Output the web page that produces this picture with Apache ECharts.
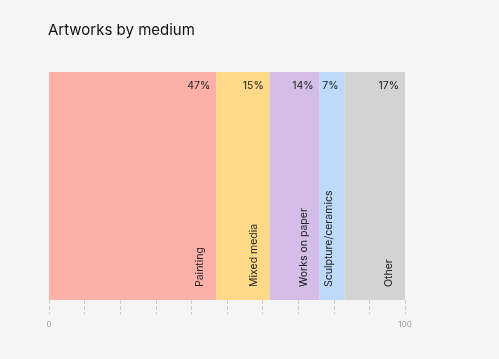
<!DOCTYPE html>
<html><head><meta charset="utf-8">
<script src="https://cdn.jsdelivr.net/npm/echarts@6/dist/echarts.min.js"></script>
<style>html,body{margin:0;padding:0;background:#f5f5f5;}#c{width:499px;height:359px;}</style>
</head><body><div id="c"></div>
<script>
const categories = ['Painting', 'Mixed media', 'Works on paper', 'Sculpture/ceramics', 'Other'];
const values = [47, 15, 14, 7, 17];
const colors = ['#fdb0a7', '#fed987', '#d4bde6', '#bddafb', '#d3d3d3'];
const tickLabels = [0, 100];

const series = [];
categories.forEach((name, i) => {
  series.push({
    type: 'bar', name: name, stack: 'a', xAxisIndex: 0, yAxisIndex: 0,
    data: [values[i]], barWidth: 228,
    itemStyle: { color: colors[i] },
    label: { show: true, position: 'insideTopRight', distance: 0, offset: [-6, 8],
      formatter: values[i] + '%', color: '#222', fontSize: 10.5, fontFamily: 'Inter' },
    emphasis: { disabled: true }, silent: true
  });
});
categories.forEach((name, i) => {
  series.push({
    type: 'bar', name: name + '_l', stack: 'b', xAxisIndex: 0, yAxisIndex: 1,
    data: [values[i]], barWidth: 228,
    itemStyle: { color: 'rgba(0,0,0,0)' },
    label: { show: true, position: 'insideBottomRight', distance: 0, rotate: 90,
      align: 'left', verticalAlign: 'middle', offset: [13, -16],
      formatter: name, color: '#222', fontSize: 10.5, fontFamily: 'Inter' },
    emphasis: { disabled: true }, silent: true
  });
});

const chart = echarts.init(document.getElementById('c'), null, { renderer: 'canvas' });
chart.setOption({
  backgroundColor: '#f5f5f5',
  animation: false,
  title: { text: 'Artworks by medium', left: 48, top: 23, padding: 0,
    textStyle: { fontFamily: 'Inter', fontSize: 15, fontWeight: 'normal', color: '#111' } },
  grid: { left: 49, right: 94, top: 72, bottom: 59 },
  xAxis: { type: 'value', min: 0, max: 100, interval: 10,
    axisLine: { show: false },
    axisTick: { show: true, length: 14, lineStyle: { type: 'dashed', color: '#ccc' } },
    splitLine: { show: false },
    axisLabel: { margin: 21, fontSize: 8, color: '#999', fontFamily: 'Inter',
      formatter: v => tickLabels.includes(v) ? String(v) : '' } },
  yAxis: [
    { type: 'category', data: ['all'], show: false },
    { type: 'category', data: ['all'], show: false }
  ],
  series: series
});
</script></body></html>
